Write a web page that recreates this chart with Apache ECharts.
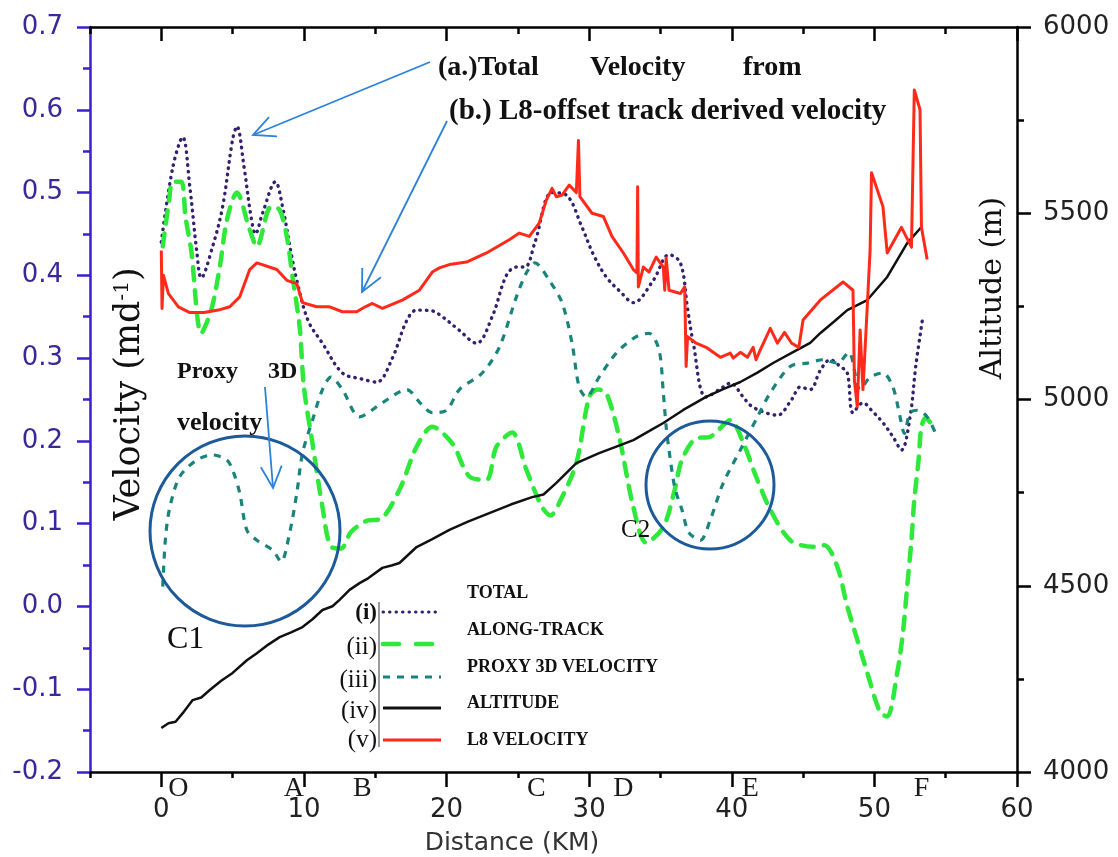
<!DOCTYPE html>
<html><head><meta charset="utf-8">
<script src="https://cdn.jsdelivr.net/npm/echarts@6/dist/echarts.min.js"></script>
<style>html,body{margin:0;padding:0;background:#fff}#c{width:1118px;height:857px}</style>
</head><body><div id="c"></div>
<script>
// ---- data (km, value) ----
var xMajorTicks = [0, 10, 20, 30, 40, 50, 60];
var xMinorTicks = [-5, 5, 15, 25, 35, 45, 55];
var pointLetters = ['O', 'A', 'B', 'C', 'D', 'E', 'F'];
var pointLetterKm = [1.2, 9.3, 14.1, 26.3, 32.4, 41.3, 53.3];

var totalVel = [[0,0.44],[0.8,0.53],[1.5,0.567],[2.0,0.507],[2.5,0.427],[2.8,0.397],[3.6,0.435],[4.3,0.483],[5.0,0.564],[5.3,0.58],[5.8,0.531],[6.3,0.47],[6.6,0.45],[7.1,0.475],[8.0,0.513],[8.5,0.483],[9.1,0.427],[9.5,0.394],[10.3,0.345],[11.3,0.318],[12.7,0.282],[14,0.275],[15.1,0.271],[16.2,0.3],[17.2,0.345],[17.9,0.358],[19,0.357],[19.7,0.35],[20.8,0.335],[22.1,0.318],[23.2,0.35],[24.2,0.4],[24.9,0.41],[25.5,0.41],[26.2,0.44],[27.4,0.50],[28.4,0.497],[29.5,0.458],[30.3,0.425],[31.2,0.398],[32.2,0.38],[33.1,0.367],[34.5,0.394],[35.6,0.425],[36.4,0.415],[36.9,0.36],[37.3,0.318],[38.2,0.253],[39.4,0.265],[39.9,0.27],[40.8,0.253],[41.3,0.243],[42.2,0.235],[43.2,0.231],[44.2,0.25],[44.8,0.265],[45.5,0.262],[46.2,0.285],[46.9,0.298],[47.6,0.29],[48.1,0.282],[48.5,0.234],[49.2,0.246],[49.9,0.235],[50.6,0.222],[51.3,0.205],[51.9,0.189],[52.5,0.229],[52.9,0.29],[53.4,0.35]];

var alongTrack = [[0.1,0.435],[0.55,0.491],[0.8,0.513],[1.4,0.513],[1.7,0.47],[2.1,0.43],[2.8,0.33],[3.5,0.358],[4.1,0.41],[4.6,0.467],[5.3,0.5],[6.2,0.455],[6.7,0.435],[7.7,0.483],[8.3,0.479],[8.8,0.447],[9.2,0.398],[9.7,0.338],[10,0.265],[10.6,0.197],[11.3,0.12],[11.9,0.072],[12.6,0.07],[13.3,0.09],[14.5,0.104],[15.3,0.105],[16.7,0.141],[17.9,0.193],[19,0.217],[20.4,0.197],[21.6,0.157],[22.8,0.153],[23.5,0.193],[24.6,0.21],[25.6,0.165],[26.7,0.12],[27.3,0.11],[27.9,0.125],[29.1,0.173],[30,0.253],[30.6,0.262],[31.2,0.258],[32.1,0.205],[33.1,0.12],[34,0.077],[35.2,0.096],[36,0.141],[36.5,0.177],[37.5,0.203],[38.5,0.205],[39.9,0.225],[40.8,0.198],[41.7,0.157],[42.7,0.117],[44.1,0.08],[45.7,0.072],[46.5,0.074],[47.4,0.048],[48.1,0],[48.8,-0.04],[49.5,-0.08],[50.4,-0.128],[50.9,-0.133],[51.6,-0.08],[52,-0.032],[52.3,0.024],[52.6,0.08],[52.8,0.129],[53.1,0.177],[53.3,0.217],[53.6,0.228],[54,0.22]];

var proxy3d = [[0.1,0.024],[0.3,0.084],[0.6,0.12],[1.3,0.157],[2.5,0.177],[3.6,0.183],[4.6,0.177],[5,0.165],[5.5,0.137],[6,0.092],[6.7,0.08],[7.8,0.068],[8.4,0.054],[9,0.089],[9.5,0.137],[9.9,0.185],[10.6,0.225],[11.3,0.262],[11.9,0.277],[12.7,0.262],[13.9,0.229],[15.5,0.246],[17.2,0.262],[18.2,0.245],[19,0.234],[20,0.237],[20.9,0.262],[22.5,0.282],[23.7,0.313],[24.9,0.374],[25.6,0.403],[26.2,0.415],[27.2,0.394],[28.1,0.367],[28.8,0.318],[29.3,0.265],[29.8,0.253],[30.7,0.277],[31.9,0.306],[33.3,0.326],[34.2,0.33],[34.9,0.31],[35.2,0.258],[35.4,0.217],[35.6,0.189],[36,0.144],[36.5,0.117],[37,0.089],[37.8,0.08],[38.5,0.105],[39.4,0.149],[40.6,0.189],[41.8,0.229],[42.7,0.258],[44.1,0.29],[45.3,0.294],[46.4,0.298],[47.4,0.294],[48.2,0.307],[49,0.262],[49.7,0.277],[50.6,0.282],[51.3,0.265],[51.8,0.229],[52.1,0.209],[52.5,0.234],[53,0.237],[53.7,0.229],[54.4,0.205]];

var altitude = [[0,4118],[0.5,4131],[1,4135],[1.5,4158],[2.2,4193],[2.8,4200],[3.4,4220],[4.2,4245],[5,4266],[6,4300],[6.7,4319],[7.5,4342],[8.3,4362],[9.1,4375],[9.9,4389],[10.6,4410],[11.3,4435],[12,4445],[12.5,4462],[13.2,4489],[13.9,4507],[14.5,4520],[15.5,4548],[16.2,4555],[16.7,4561],[17.9,4604],[19,4625],[20.2,4650],[21.5,4672],[23,4695],[24.5,4718],[26,4738],[26.8,4745],[27.7,4776],[29.1,4829],[30.7,4856],[32,4875],[33.1,4891],[34.2,4915],[35.2,4937],[36.6,4972],[38.2,5007],[39.4,5028],[40.6,5047],[41.8,5072],[42.9,5098],[44.2,5125],[45.5,5152],[46.2,5178],[47.2,5210],[48.1,5240],[49.5,5267],[50.9,5329],[52.3,5420],[53.3,5463]];

var l8Vel = [[0,0.43],[0.05,0.36],[0.15,0.40],[0.5,0.378],[1.2,0.362],[2,0.355],[3,0.355],[4,0.358],[4.8,0.362],[5.5,0.374],[6.2,0.407],[6.7,0.415],[8.1,0.407],[8.8,0.394],[9.5,0.39],[9.9,0.367],[10.9,0.362],[11.8,0.362],[12.7,0.356],[13.7,0.356],[14.3,0.362],[14.8,0.366],[15.5,0.36],[16.9,0.37],[18.1,0.382],[19,0.404],[19.5,0.409],[20.2,0.413],[21.4,0.416],[22.8,0.427],[24.4,0.443],[25.1,0.451],[25.8,0.447],[26.5,0.463],[27,0.491],[27.4,0.505],[27.7,0.495],[28.1,0.497],[28.6,0.509],[29.1,0.5],[29.25,0.563],[29.35,0.495],[30.2,0.475],[31,0.471],[31.6,0.447],[32.4,0.427],[33.1,0.407],[33.35,0.403],[33.4,0.507],[33.45,0.386],[33.8,0.41],[34.2,0.404],[34.7,0.422],[35.2,0.41],[35.3,0.382],[35.4,0.421],[35.6,0.382],[36.4,0.378],[36.7,0.386],[36.8,0.29],[36.9,0.326],[37.5,0.318],[38.2,0.313],[39.2,0.301],[39.9,0.306],[40.1,0.3],[40.6,0.307],[41.1,0.301],[41.5,0.313],[41.7,0.298],[42,0.31],[42.7,0.336],[43.2,0.318],[43.7,0.331],[44.2,0.318],[44.7,0.313],[45,0.346],[46.2,0.37],[47.8,0.392],[48.5,0.382],[48.6,0.273],[48.8,0.241],[49,0.334],[49.2,0.262],[49.5,0.362],[49.7,0.431],[49.8,0.524],[50.6,0.483],[50.9,0.427],[51.9,0.458],[52.6,0.434],[52.8,0.624],[53.2,0.6],[53.3,0.458],[53.7,0.419]];

// ---- styles ----
var C_TOTAL = '#33206e', C_ALONG = '#2ee83a', C_PROXY = '#18847a', C_ALT = '#111111', C_L8 = '#ff2a1a';
var BLUE_AXIS = '#3b1fd0', BLUE_LBL = '#3a2799';
var SERIF = '"Liberation Serif", "DejaVu Serif", serif';
var WSERIF = '"DejaVu Serif", serif';
var SANS = '"DejaVu Sans", "Liberation Sans", sans-serif';

var chart = echarts.init(document.getElementById('c'), null, {renderer: 'canvas'});

function xAx(pos, ticks, len, inside, showLine, showLabel) {
  return {
    type: 'value', position: pos, min: -5, max: 60,
    axisLine: {show: showLine, onZero: false, lineStyle: {color: '#000', width: 2.5}},
    axisTick: {show: true, customValues: ticks, length: len, inside: inside, lineStyle: {color: '#000', width: 2.5}},
    axisLabel: showLabel ? {show: true, customValues: xMajorTicks, margin: 25, fontSize: 26, color: '#222', fontFamily: SANS} : {show: false},
    splitLine: {show: false}
  };
}

chart.setOption({
  animation: false,
  backgroundColor: '#fff',
  grid: {left: 90, right: 101, top: 27, bottom: 85, containLabel: false},
  xAxis: [
    xAx('bottom', xMajorTicks, 15, false, true, true),
    xAx('bottom', xMinorTicks, 6, false, false, false),
    xAx('top', xMajorTicks, 14, true, true, false),
    xAx('top', xMinorTicks, 7, true, false, false)
  ],
  yAxis: [
    {
      type: 'value', position: 'left', min: -0.2, max: 0.7, interval: 0.1,
      axisLine: {show: true, onZero: false, lineStyle: {color: BLUE_AXIS, width: 2.5}},
      axisTick: {show: true, length: 13, lineStyle: {color: BLUE_AXIS, width: 2.5}},
      minorTick: {show: true, splitNumber: 2, length: 7, lineStyle: {color: BLUE_AXIS, width: 2.5}},
      axisLabel: {formatter: function (v) { return v.toFixed(1); }, fontSize: 26, color: BLUE_LBL, margin: 27, fontFamily: SANS},
      splitLine: {show: false}, minorSplitLine: {show: false}
    },
    {
      type: 'value', position: 'right', min: 4000, max: 6000, interval: 500,
      axisLine: {show: true, onZero: false, lineStyle: {color: '#000', width: 2.5}},
      axisTick: {show: true, length: 14, lineStyle: {color: '#000', width: 2.5}},
      minorTick: {show: true, splitNumber: 2, length: 7, lineStyle: {color: '#000', width: 2.5}},
      axisLabel: {formatter: function (v) { return String(v); }, fontSize: 26, color: '#222', margin: 26, fontFamily: SANS},
      splitLine: {show: false}, minorSplitLine: {show: false}
    }
  ],
  series: [
    {name: 'TOTAL', type: 'line', data: totalVel, smooth: 0.35, showSymbol: false,
      lineStyle: {color: C_TOTAL, width: 3.4, type: [0.5, 6], cap: 'round'}},
    {name: 'ALONG-TRACK', type: 'line', data: alongTrack, smooth: 0.3, showSymbol: false,
      lineStyle: {color: C_ALONG, width: 4.5, type: [13, 10], cap: 'round'}},
    {name: 'PROXY 3D VELOCITY', type: 'line', data: proxy3d, smooth: 0.3, showSymbol: false,
      lineStyle: {color: C_PROXY, width: 3.2, type: [7, 7]}},
    {name: 'ALTITUDE', type: 'line', yAxisIndex: 1, data: altitude, showSymbol: false,
      lineStyle: {color: C_ALT, width: 2.5}},
    {name: 'L8 VELOCITY', type: 'line', data: l8Vel, showSymbol: false,
      lineStyle: {color: C_L8, width: 3, join: 'round'}}
  ]
});

// ---- annotations ----
function arrow(x1, y1, x2, y2) {
  var a = Math.atan2(y2 - y1, x2 - x1), L = 24, s = 0.45;
  var st = {stroke: '#2b82d9', lineWidth: 1.8, fill: null};
  return [
    {type: 'line', shape: {x1: x1, y1: y1, x2: x2, y2: y2}, style: st, z: 50},
    {type: 'polyline', shape: {points: [[x2 - L * Math.cos(a - s), y2 - L * Math.sin(a - s)], [x2, y2], [x2 - L * Math.cos(a + s), y2 - L * Math.sin(a + s)]]}, style: st, z: 50}
  ];
}
function txt(x, y, t, size, opts) {
  opts = opts || {};
  return {type: 'text', x: x, y: y, rotation: opts.rot || 0, z: 60,
    style: {text: t, font: (opts.bold ? 'bold ' : '') + size + 'px ' + (opts.family || SERIF),
      fill: opts.color || '#111', textAlign: opts.align || 'left', textVerticalAlign: 'middle', verticalAlign: 'middle', rich: opts.rich}};
}

var g = [];
// bottom point letters
for (var i = 0; i < pointLetters.length; i++) {
  var px = chart.convertToPixel({xAxisIndex: 0}, pointLetterKm[i]);
  g.push(txt(px, 789, pointLetters[i], 28, {align: 'center', color: '#1a1a1a'}));
}
// circles
g.push({type: 'circle', shape: {cx: 245, cy: 531, r: 95}, style: {stroke: '#1c5a9a', lineWidth: 3, fill: null}, z: 40});
g.push({type: 'circle', shape: {cx: 710, cy: 485, r: 64}, style: {stroke: '#1c5a9a', lineWidth: 3, fill: null}, z: 40});
g.push(txt(167, 640, 'C1', 32));
g.push(txt(621, 530, 'C2', 25));
// arrows
g = g.concat(arrow(430, 62, 253, 135));
g = g.concat(arrow(447, 121, 362, 292));
g = g.concat(arrow(265, 387, 273, 488));
// annotation texts
g.push(txt(438, 68, '(a.)Total', 28, {bold: true}));
g.push(txt(590, 68, 'Velocity', 28, {bold: true}));
g.push(txt(743, 68, 'from', 28, {bold: true}));
g.push(txt(449, 112, '(b.) L8-offset track derived velocity', 29, {bold: true}));
g.push(txt(177, 372, 'Proxy', 24, {bold: true}));
g.push(txt(268, 372, '3D', 24, {bold: true}));
g.push(txt(177, 423, 'velocity', 26, {bold: true}));
// legend
var legNum = ['(i)', '(ii)', '(iii)', '(iv)', '(v)'];
var legNumY = [613, 647, 680, 711, 740];
var legLineY = [612, 644, 677, 708, 740];
var legLabel = ['TOTAL', 'ALONG-TRACK', 'PROXY 3D VELOCITY', 'ALTITUDE', 'L8 VELOCITY'];
var legLabelY = [593, 630, 667, 703, 740];
var legStyle = [
  {stroke: C_TOTAL, lineWidth: 3, lineDash: [0.5, 6], lineCap: 'round'},
  {stroke: C_ALONG, lineWidth: 4.5, lineDash: [16, 17], lineCap: 'round'},
  {stroke: C_PROXY, lineWidth: 3.2, lineDash: [7, 7]},
  {stroke: C_ALT, lineWidth: 3},
  {stroke: C_L8, lineWidth: 3}
];
g.push({type: 'line', shape: {x1: 379, y1: 602, x2: 379, y2: 747}, style: {stroke: '#9a9a9a', lineWidth: 2}, z: 50});
for (var k = 0; k < 5; k++) {
  g.push(txt(377, legNumY[k], legNum[k], k === 0 ? 23 : 25, {align: 'right', bold: k === 0}));
  g.push({type: 'line', shape: {x1: 383, y1: legLineY[k], x2: 441, y2: legLineY[k]}, style: legStyle[k], z: 50});
  g.push(txt(467, legLabelY[k], legLabel[k], 18, {bold: true}));
}
// axis names
g.push(txt(130, 394, 'Velocity (md{s|-1})', 35, {align: 'center', rot: Math.PI / 2, family: WSERIF,
  rich: {s: {fontSize: 20, fontFamily: WSERIF, verticalAlign: 'top', padding: [0, 0, 14, 0], fill: '#111'}}}));
g.push(txt(993, 288, 'Altitude (m)', 30, {align: 'center', rot: Math.PI / 2, family: WSERIF}));
g.push(txt(512, 843, 'Distance (KM)', 25, {align: 'center', family: SANS, color: '#333'}));

chart.setOption({graphic: g});
</script>
</body></html>
